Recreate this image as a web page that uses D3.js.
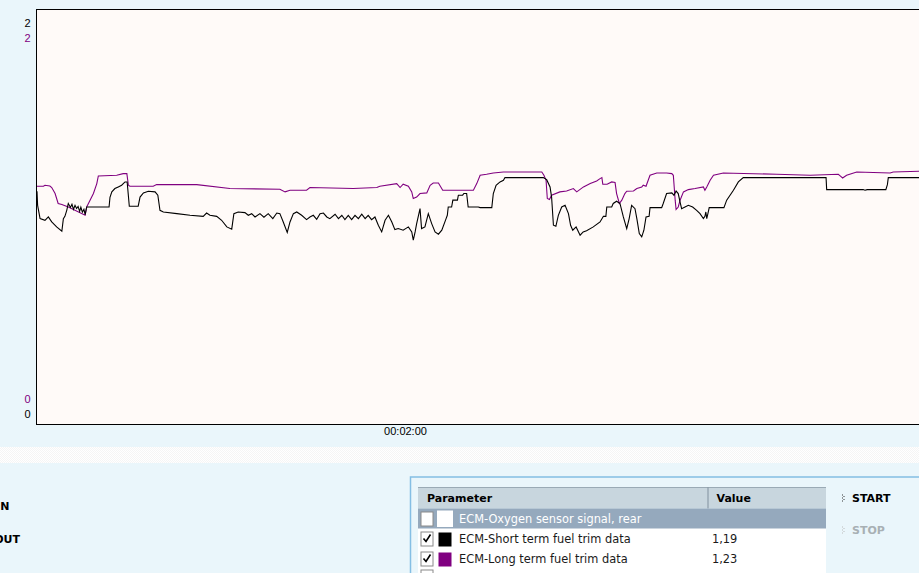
<!DOCTYPE html>
<html><head><meta charset="utf-8">
<script src="https://cdn.jsdelivr.net/npm/d3@7/dist/d3.min.js"></script>
<style>html,body{margin:0;padding:0;background:#EAF6FB;overflow:hidden}</style>
</head><body>
<script>
// ---- data ----
const yDomain = [0, 2];
const timeTicks = [120]; // seconds -> "00:02:00"
const shortTermTrim = [[0,1.123],[0.2,1.055],[1.0,0.991],[2.6,0.983],[3.7,0.999],[4.8,0.975],[6.4,0.951],[8.1,0.930],[8.6,0.991],[9.1,1.002],[9.7,1.031],[10.2,1.064],[10.9,1.045],[11.4,1.060],[11.9,1.036],[12.4,1.055],[12.9,1.040],[13.4,1.050],[13.9,1.026],[14.3,1.046],[14.8,1.022],[15.3,1.036],[15.7,1.010],[16.2,1.047],[23.5,1.047],[23.8,1.094],[24.4,1.120],[25.4,1.136],[26.5,1.144],[27.6,1.152],[28.7,1.168],[29.4,1.168],[30.1,1.051],[33.0,1.051],[33.6,1.095],[34.7,1.115],[36.3,1.123],[38.5,1.120],[39.4,1.104],[40.1,1.031],[41.2,1.023],[45.6,1.015],[49.9,1.007],[54.2,1.002],[55.3,1.018],[56.4,1.007],[58.6,1.002],[60.2,0.983],[61.9,0.951],[63.5,0.940],[64.2,1.015],[65.6,1.023],[67.8,1.020],[68.9,1.007],[70.0,1.015],[71.1,0.999],[72.7,1.015],[74.0,0.998],[75.4,1.015],[76.9,0.991],[78.2,1.018],[79.2,1.015],[80.3,0.975],[81.6,0.924],[82.5,0.975],[83.6,1.015],[84.7,1.023],[86.3,1.007],[87.9,0.986],[89.0,0.999],[90.1,1.007],[91.2,0.988],[92.3,1.015],[93.4,1.018],[94.5,0.999],[95.5,0.991],[97.2,1.012],[98.3,0.991],[99.4,1.007],[100.4,0.986],[101.5,1.007],[102.6,0.986],[103.7,1.007],[104.8,0.991],[105.9,1.012],[107.0,0.991],[108.0,1.007],[109.1,0.986],[110.2,0.999],[111.3,0.959],[112.4,0.927],[113.5,0.983],[114.6,1.007],[115.7,0.975],[116.7,0.938],[117.8,0.943],[119.4,0.935],[121.1,0.951],[122.2,0.927],[122.7,0.887],[123.3,0.927],[123.8,0.967],[124.9,1.039],[125.4,0.943],[126.5,0.951],[127.6,1.015],[128.7,0.967],[129.8,0.927],[130.9,0.916],[132.0,0.935],[133.4,0.991],[133.8,1.007],[134.1,1.047],[135.2,1.047],[135.6,1.080],[137.1,1.080],[137.4,1.104],[138.8,1.104],[139.2,1.112],[140.1,1.112],[140.6,1.047],[143.9,1.047],[144.5,1.044],[148.3,1.044],[148.8,1.112],[149.7,1.152],[151.0,1.168],[152.1,1.176],[152.6,1.189],[165.1,1.189],[166.2,1.179],[167.3,1.144],[167.8,1.095],[168.4,0.959],[169.2,0.954],[170.0,1.007],[171.1,1.047],[172.2,1.055],[173.3,1.015],[174.0,0.959],[174.7,0.935],[175.8,0.951],[177.1,0.911],[178.1,0.927],[179.2,0.932],[181.4,0.951],[183.6,0.975],[184.7,1.002],[185.5,1.002],[185.8,1.047],[187.4,1.047],[187.9,1.064],[189.0,1.075],[190.1,1.064],[191.2,0.999],[192.3,0.943],[193.1,0.991],[193.9,1.055],[195.0,1.039],[195.6,0.991],[196.4,0.919],[197.2,0.903],[197.9,0.935],[198.6,0.999],[199.6,1.002],[199.9,1.044],[203.7,1.044],[204.2,1.064],[205.3,1.112],[207.0,1.115],[207.7,1.104],[208.4,1.124],[209.1,1.112],[209.7,1.071],[210.2,1.039],[211.3,1.047],[212.4,1.055],[213.8,1.047],[215.1,1.031],[216.2,1.015],[217.3,0.991],[217.8,1.002],[218.1,1.023],[218.4,0.991],[218.9,1.023],[219.2,1.044],[224.0,1.044],[224.9,1.080],[227.1,1.128],[228.7,1.168],[230.3,1.189],[257.3,1.189],[257.5,1.131],[269.4,1.131],[270.0,1.128],[270.7,1.131],[276.8,1.131],[277.3,1.155],[277.6,1.189],[290.0,1.189]];
const longTermTrim = [[0,1.147],[2.1,1.147],[2.6,1.152],[4.2,1.148],[4.8,1.141],[5.9,1.112],[6.9,1.064],[8.1,1.059],[10.2,1.047],[15.7,1.007],[16.2,1.047],[17.3,1.080],[18.4,1.112],[19.5,1.160],[20.0,1.197],[26.0,1.200],[28.1,1.208],[29.3,1.208],[29.8,1.152],[30.3,1.147],[37.9,1.147],[39.0,1.155],[52.1,1.155],[62.9,1.136],[79.2,1.133],[80.9,1.120],[82.5,1.128],[87.9,1.128],[89.0,1.141],[103.1,1.136],[110.8,1.141],[111.8,1.147],[117.3,1.160],[118.4,1.141],[119.4,1.157],[121.1,1.147],[122.2,1.120],[122.7,1.088],[123.8,1.095],[124.9,1.112],[127.1,1.115],[128.2,1.152],[129.2,1.163],[130.9,1.163],[132.3,1.128],[142.3,1.128],[143.4,1.160],[144.5,1.200],[146.6,1.205],[148.8,1.211],[152.1,1.216],[164.6,1.216],[165.3,1.200],[166.0,1.176],[166.4,1.088],[167.1,1.083],[167.8,1.104],[170.5,1.120],[172.7,1.124],[174.9,1.136],[176.0,1.120],[178.2,1.144],[180.4,1.160],[182.5,1.173],[183.6,1.184],[184.2,1.189],[184.5,1.157],[185.9,1.157],[187.4,1.168],[188.5,1.165],[189.0,1.112],[189.9,1.064],[190.7,1.080],[191.7,1.112],[192.3,1.123],[194.5,1.124],[195.6,1.136],[197.2,1.144],[197.7,1.152],[198.6,1.147],[199.3,1.176],[199.9,1.200],[202.1,1.211],[205.3,1.211],[207.0,1.208],[207.5,1.200],[208.1,1.080],[208.4,1.035],[209.1,1.047],[209.7,1.080],[210.8,1.120],[212.4,1.131],[214.6,1.136],[217.3,1.144],[217.8,1.128],[218.4,1.144],[219.5,1.176],[220.6,1.200],[223.8,1.211],[241.2,1.205],[252.1,1.200],[261.3,1.205],[262.1,1.195],[262.7,1.187],[264.0,1.200],[267.3,1.216],[278.2,1.211],[279.2,1.216],[290.0,1.221]];
const paramNames = ["ECM-Oxygen sensor signal, rear", "ECM-Short term fuel trim data", "ECM-Long term fuel trim data"];
const paramValues = ["", "1,19", "1,23"];
const paramChecked = [false, true, true];
const paramColors = ["#ffffff", "#000000", "#800080"];
const tableHeaders = ["Parameter", "Value"];
const buttonLabels = ["START", "STOP"];
const sideLabels = ["ZOOM IN", "ZOOM OUT"];

// ---- drawing ----
const W = 919, H = 573;
const svg = d3.select("body").append("svg").attr("width", W).attr("height", H)
  .style("display","block").style("font-family","'DejaVu Sans', Verdana, sans-serif");
const defs = svg.append("defs");
const pat = defs.append("pattern").attr("id","chk").attr("width",2).attr("height",2).attr("patternUnits","userSpaceOnUse");
pat.append("rect").attr("width",2).attr("height",2).attr("fill","#ffffff");
pat.append("rect").attr("width",1).attr("height",1).attr("fill","#f5f5f5");
pat.append("rect").attr("x",1).attr("y",1).attr("width",1).attr("height",1).attr("fill","#f5f5f5");

svg.append("rect").attr("width",W).attr("height",H).attr("fill","#EAF6FB");

const plot = {left: 36.5, top: 9.5, bottom: 424.5, right: 960};
const x = d3.scaleLinear().domain([0, 300]).range([37, 37 + 300 * 368 / 120]);
const y = d3.scaleLinear().domain(yDomain).range([424, 9.5]);

defs.append("clipPath").attr("id","clip").append("rect")
  .attr("x", plot.left + 0.5).attr("y", plot.top + 0.5)
  .attr("width", plot.right - plot.left).attr("height", plot.bottom - plot.top - 1);

svg.append("rect").attr("x", plot.left).attr("y", plot.top)
  .attr("width", plot.right - plot.left).attr("height", plot.bottom - plot.top)
  .attr("fill","#FFFAF8").attr("stroke","#000").attr("stroke-width",1);

const line = d3.line().x(d => x(d[0])).y(d => y(d[1]));
const lg = svg.append("g").attr("clip-path","url(#clip)");
lg.append("path").datum(longTermTrim).attr("d", line).attr("fill","none").attr("stroke","#800080").attr("stroke-width",1.1);
lg.append("path").datum(shortTermTrim).attr("d", line).attr("fill","none").attr("stroke","#000").attr("stroke-width",1.1);

// x axis
const fmt = s => { const h = Math.floor(s/3600), m = Math.floor(s%3600/60), ss = s%60; const p = n => String(n).padStart(2,"0"); return p(h)+":"+p(m)+":"+p(ss); };
const xa = svg.append("g").attr("transform", `translate(0,${plot.bottom})`)
  .call(d3.axisBottom(x).tickValues(timeTicks).tickFormat(fmt).tickSize(0).tickPadding(3));
xa.select(".domain").remove();
xa.selectAll("text").attr("fill","#000").style("font-family","'Liberation Sans', Arial, sans-serif").style("font-size","11px");

// y axes (two series, labels inset)
function yAxis(color, offTop, offBottom) {
  const g = svg.append("g").attr("transform", `translate(${plot.left},0)`)
    .call(d3.axisLeft(y).tickValues(yDomain).tickFormat(d3.format("d")).tickSize(0).tickPadding(6));
  g.select(".domain").remove();
  g.selectAll("text").attr("fill", color).style("font-family","'Liberation Sans', Arial, sans-serif").style("font-size","11px")
    .attr("transform", d => `translate(0,${d === yDomain[1] ? offTop : offBottom})`);
}
yAxis("#000", 13.5, -10.5);
yAxis("#800080", 28, -25);

// lower area
svg.append("rect").attr("x",0).attr("y",447).attr("width",W).attr("height",16).attr("fill","url(#chk)");

// side labels (clipped at the left edge, as in the original)
svg.selectAll("text.side").data(sideLabels).join("text").attr("class","side")
  .attr("x",(d,i)=> i===0 ? 9.5 : 20).attr("y",(d,i)=> i===0 ? 509.5 : 542.5)
  .attr("text-anchor","end").attr("font-weight","bold").attr("font-size",11).attr("fill","#000").text(d=>d);

// table panel
svg.append("rect").attr("x",410.5).attr("y",477).attr("width",600).attr("height",200)
  .attr("fill","#EAF6FB").attr("stroke","#84BEE4").attr("stroke-width",1.5);

const tx = 418, tw = 408, colX = 708;
svg.append("rect").attr("x",tx).attr("y",487).attr("width",tw).attr("height",21.5).attr("fill","#C8D6DE");
svg.append("line").attr("x1",tx).attr("x2",tx+tw).attr("y1",487.5).attr("y2",487.5).attr("stroke","#9AAAB5");
svg.append("line").attr("x1",colX).attr("x2",colX).attr("y1",487).attr("y2",508.5).attr("stroke","#8C9CA8").attr("stroke-width",1.2);
svg.selectAll("text.hdr").data(tableHeaders).join("text").attr("class","hdr")
  .attr("x",(d,i)=> i===0 ? 427 : 716.5).attr("y",502).attr("font-weight","bold").attr("font-size",11).attr("fill","#000").text(d=>d);

const rowH = 20, row0 = 508.5;
const rows = svg.selectAll("g.row").data(paramNames).join("g").attr("class","row")
  .attr("transform",(d,i)=>`translate(0,${row0 + i*rowH})`);
rows.append("rect").attr("x",tx).attr("y",0).attr("width",tw).attr("height",rowH+0.5)
  .attr("fill",(d,i)=> i===0 ? "#95A9BD" : "#ffffff");
rows.append("rect").attr("x",421).attr("y",3.5).attr("width",12).attr("height",14)
  .attr("fill","#fff").attr("stroke","#8a8a8a").attr("stroke-width",1);
rows.filter((d,i)=>paramChecked[i]).append("path")
  .attr("d","M423.5,10 L426,13 L430.5,6").attr("fill","none").attr("stroke","#000").attr("stroke-width",1.6);
rows.append("rect").attr("x",(d,i)=> i===0 ? 437 : 438.5).attr("y",(d,i)=> i===0 ? 2 : 4)
  .attr("width",(d,i)=> i===0 ? 16 : 13).attr("height",(d,i)=> i===0 ? 16.5 : 14)
  .attr("fill",(d,i)=>paramColors[i]);
rows.append("text").attr("x",459).attr("y",14.5).attr("font-size",11.4)
  .attr("fill",(d,i)=> i===0 ? "#ffffff" : "#1a1a1a").text(d=>d);
rows.append("text").attr("x",712).attr("y",14.5).attr("font-size",11.4).attr("fill","#1a1a1a")
  .text((d,i)=>paramValues[i]);
// partially visible next row
svg.append("rect").attr("x",tx).attr("y",row0+3*rowH).attr("width",tw).attr("height",10).attr("fill","#fff");
svg.append("rect").attr("x",421).attr("y",row0+3*rowH+1.5).attr("width",12).attr("height",14).attr("fill","#fff").attr("stroke","#8a8a8a");

// buttons
const btn = svg.selectAll("g.btn").data(buttonLabels).join("g").attr("class","btn")
  .attr("transform",(d,i)=>`translate(842,${498 + i*32})`);
btn.each(function(d,i){
  const g = d3.select(this);
  [[0,-3],[0,0],[0,3],[1.5,-1.5],[1.5,1.5]].forEach(p => g.append("rect").attr("x",p[0]).attr("y",p[1]-0.5).attr("width",1).attr("height",1).attr("fill", i===0 ? "#333" : "#bbb"));
});
btn.append("text").attr("x",10).attr("y",4).attr("font-weight","bold").attr("font-size",11)
  .attr("fill",(d,i)=> i===0 ? "#000" : "#a8b0b4").text(d=>d);
</script>
</body></html>
